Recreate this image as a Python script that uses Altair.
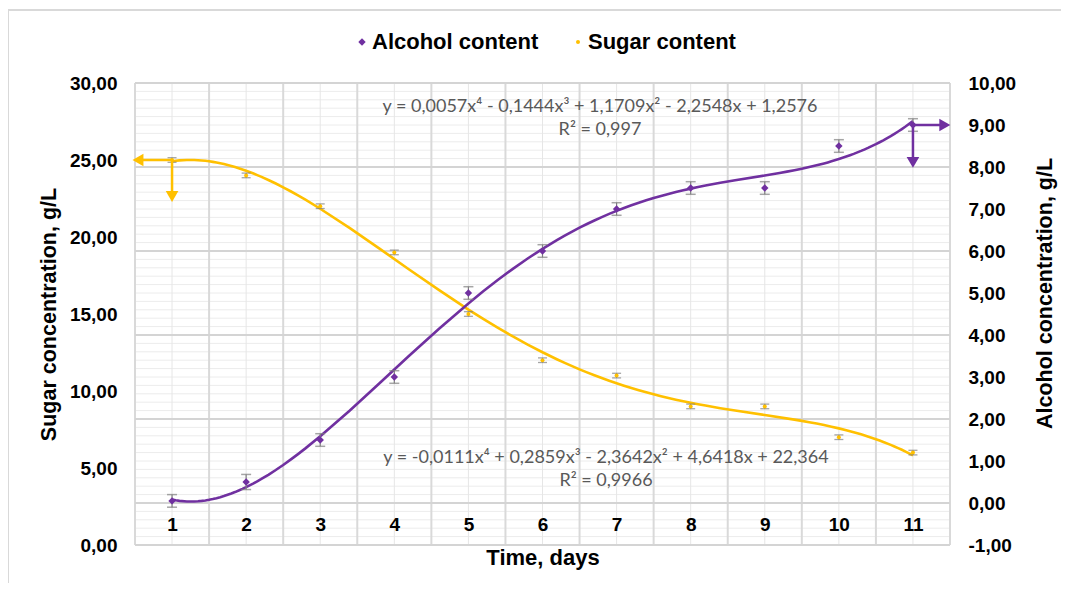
import altair as alt
import numpy as np
import pandas as pd

# ---------------- data ----------------
days = [1, 2, 3, 4, 5, 6, 7, 8, 9, 10, 11]
sugar = [25.0, 24.0, 22.0, 19.0, 15.0, 12.0, 11.0, 9.0, 9.0, 7.0, 6.0]
sugar_err = [0.15, 0.15, 0.15, 0.15, 0.15, 0.15, 0.15, 0.15, 0.15, 0.15, 0.15]
alcohol = [0.05, 0.5, 1.5, 3.0, 5.0, 6.0, 7.0, 7.5, 7.5, 8.5, 9.0]
alcohol_err = [0.15, 0.18, 0.15, 0.15, 0.15, 0.15, 0.15, 0.15, 0.15, 0.15, 0.15]

sugar_eq = "y = -0,0111x⁴ + 0,2859x³ - 2,3642x² + 4,6418x + 22,364"
sugar_r2 = "R² = 0,9966"
alc_eq = "y = 0,0057x⁴ - 0,1444x³ + 1,1709x² - 2,2548x + 1,2576"
alc_r2 = "R² = 0,997"

legend_labels = ["Alcohol content", "Sugar content"]
x_title = "Time, days"
sugar_title = "Sugar concentration, g/L"
alcohol_title = "Alcohol concentration, g/L"

sugar_ticks = [0, 5, 10, 15, 20, 25, 30]
alcohol_ticks = [-1, 0, 1, 2, 3, 4, 5, 6, 7, 8, 9, 10]

# arrows: start point (day, value), horizontal head x, vertical head value
sugar_arrow = [1, 25.0, 0.54, 22.63]
alcohol_arrow = [11, 9.0, 11.43, 8.11]

# ---------------- styles ----------------
PURPLE = "#7030A0"
GOLD = "#FFC000"
ERR = "#7F7F7F"
TXT = "#595959"
FONT = "Liberation Sans"
EQFONT = "Lato"

df = pd.DataFrame({
    "day": days,
    "sugar": sugar,
    "s_lo": [v - e for v, e in zip(sugar, sugar_err)],
    "s_hi": [v + e for v, e in zip(sugar, sugar_err)],
    "alcohol": alcohol,
    "a_lo": [v - e for v, e in zip(alcohol, alcohol_err)],
    "a_hi": [v + e for v, e in zip(alcohol, alcohol_err)],
})

num_expr = ("datum.value < 0 ? '-' + replace(format(-datum.value, '.2f'), '.', ',') "
            ": replace(format(datum.value, '.2f'), '.', ',')")

x_scale = alt.Scale(domain=[0.5, 11.5], nice=False, zero=False)
x_axis = alt.Axis(values=days, format="d", grid=False, ticks=False, domain=False,
                  offset=-43, labelPadding=13, labelFlush=False, labelOverlap=False,
                  title=x_title, titlePadding=13, zindex=1,
                  labelFont=FONT, labelFontSize=19, labelFontWeight="bold", labelColor="#000000",
                  titleFont=FONT, titleFontSize=22, titleFontWeight="bold", titleColor="#000000")


def X(f):
    return alt.X(f"{f}:Q", scale=x_scale, axis=x_axis)


s_scale = alt.Scale(domain=[0, 30], nice=False, zero=False)
s_axis = alt.Axis(orient="left", values=sugar_ticks, labelExpr=num_expr, grid=False, ticks=False,
                  domain=False, labelPadding=18, title=sugar_title, zindex=1,
                  titleX=-86, titleY=231, titleAngle=270, titleAlign="center", titleBaseline="middle",
                  labelFont=FONT, labelFontSize=19, labelFontWeight="bold", labelColor="#000000",
                  titleFont=FONT, titleFontSize=21.5, titleFontWeight="bold", titleColor="#000000")

a_scale = alt.Scale(domain=[-1, 10], nice=False, zero=False)
a_axis = alt.Axis(orient="right", values=alcohol_ticks, labelExpr=num_expr, grid=False, ticks=False,
                  domain=False, labelPadding=18, title=alcohol_title, zindex=1,
                  titleX=95, titleY=210, titleAngle=270, titleAlign="center", titleBaseline="middle",
                  labelFont=FONT, labelFontSize=19, labelFontWeight="bold", labelColor="#000000",
                  titleFont=FONT, titleFontSize=21.5, titleFontWeight="bold", titleColor="#000000")


def YS(f):
    return alt.Y(f"{f}:Q", scale=s_scale, axis=s_axis)


def YA(f):
    return alt.Y(f"{f}:Q", scale=a_scale, axis=a_axis)


g_scale = alt.Scale(domain=[-1, 10], nice=False, zero=False)

# ---------------- grid (Excel-like) ----------------
minor_h = pd.DataFrame({"v": np.round(np.arange(-1, 10.001, 0.2), 2)})
major_h = pd.DataFrame({"v": [-1, 0, 2, 4, 6, 8, 10]})
bound_v = pd.DataFrame({"v": [0.5 + i for i in range(12)]})
center_v = pd.DataFrame({"v": days})

grid_layer = alt.layer(
    alt.Chart(minor_h).mark_rule(color="#ececec", strokeWidth=1).encode(
        y=alt.Y("v:Q", scale=g_scale, axis=None)),
    alt.Chart(center_v).mark_rule(color="#e6e6e6", strokeWidth=1).encode(x=X("v")),
    alt.Chart(bound_v).mark_rule(color="#d9d9d9", strokeWidth=2).encode(x=X("v")),
    alt.Chart(major_h).mark_rule(color="#d4d4d4", strokeWidth=2).encode(
        y=alt.Y("v:Q", scale=g_scale, axis=None)),
)

# ---------------- sugar series ----------------
s_arrow_h = pd.DataFrame({"x0": [sugar_arrow[0]], "x1": [sugar_arrow[2]], "y": [sugar_arrow[1]]})
s_arrow_v = pd.DataFrame({"x0": [sugar_arrow[0]], "y": [sugar_arrow[1]], "y1": [sugar_arrow[3]]})

sugar_layer = alt.layer(
    alt.Chart(df).transform_regression("day", "sugar", method="poly", order=4)
    .mark_line(color=GOLD, strokeWidth=2.6).encode(x=X("day"), y=YS("sugar")),
    alt.Chart(df).mark_rule(color=ERR, strokeWidth=1.2).encode(x=X("day"), y=YS("s_lo"), y2="s_hi"),
    alt.Chart(df).mark_tick(orient="horizontal", color=ERR, size=9, thickness=1.3)
    .encode(x=X("day"), y=YS("s_lo")),
    alt.Chart(df).mark_tick(orient="horizontal", color=ERR, size=9, thickness=1.3)
    .encode(x=X("day"), y=YS("s_hi")),
    alt.Chart(df).mark_point(shape="circle", filled=True, size=16, color=GOLD, opacity=1)
    .encode(x=X("day"), y=YS("sugar")),
    alt.Chart(s_arrow_h).mark_rule(color=GOLD, strokeWidth=2.5).encode(x=X("x0"), x2="x1", y=YS("y")),
    alt.Chart(s_arrow_v).mark_rule(color=GOLD, strokeWidth=2.5).encode(x=X("x0"), y=YS("y"), y2="y1"),
    alt.Chart(s_arrow_h).mark_point(shape="triangle-left", filled=True, size=160, color=GOLD, opacity=1)
    .encode(x=X("x1"), y=YS("y")),
    alt.Chart(s_arrow_v).mark_point(shape="triangle-down", filled=True, size=160, color=GOLD, opacity=1)
    .encode(x=X("x0"), y=YS("y1")),
)

# ---------------- alcohol series ----------------
a_arrow_h = pd.DataFrame({"x0": [alcohol_arrow[0]], "x1": [alcohol_arrow[2]], "y": [alcohol_arrow[1]]})
a_arrow_v = pd.DataFrame({"x0": [alcohol_arrow[0]], "y": [alcohol_arrow[1]], "y1": [alcohol_arrow[3]]})

alcohol_layer = alt.layer(
    alt.Chart(df).transform_regression("day", "alcohol", method="poly", order=4)
    .mark_line(color=PURPLE, strokeWidth=2.6).encode(x=X("day"), y=YA("alcohol")),
    alt.Chart(df).mark_rule(color=ERR, strokeWidth=1.2).encode(x=X("day"), y=YA("a_lo"), y2="a_hi"),
    alt.Chart(df).mark_tick(orient="horizontal", color=ERR, size=10, thickness=1.5)
    .encode(x=X("day"), y=YA("a_lo")),
    alt.Chart(df).mark_tick(orient="horizontal", color=ERR, size=10, thickness=1.5)
    .encode(x=X("day"), y=YA("a_hi")),
    alt.Chart(df).mark_point(shape="diamond", filled=True, size=55, color=PURPLE, opacity=1)
    .encode(x=X("day"), y=YA("alcohol")),
    alt.Chart(a_arrow_h).mark_rule(color=PURPLE, strokeWidth=2.5).encode(x=X("x0"), x2="x1", y=YA("y")),
    alt.Chart(a_arrow_v).mark_rule(color=PURPLE, strokeWidth=2.5).encode(x=X("x0"), y=YA("y"), y2="y1"),
    alt.Chart(a_arrow_h).mark_point(shape="triangle-right", filled=True, size=160, color=PURPLE, opacity=1)
    .encode(x=X("x1"), y=YA("y")),
    alt.Chart(a_arrow_v).mark_point(shape="triangle-down", filled=True, size=160, color=PURPLE, opacity=1)
    .encode(x=X("x0"), y=YA("y1")),
)

# ---------------- annotations, legend, frame ----------------
one = pd.DataFrame({"k": [0]})


def txt(s, x, y, font=EQFONT, size=18, color=TXT, weight="normal", align="center"):
    return alt.Chart(one).mark_text(font=font, fontSize=size, color=color, fontWeight=weight,
                                    align=align, baseline="middle").encode(
        x=alt.value(x), y=alt.value(y), text=alt.value(s))


annot_layer = alt.layer(
    alt.Chart(one).mark_rule(stroke="#d9d9d9", strokeWidth=2).encode(
        x=alt.value(-127), y=alt.value(-73), y2=alt.value(700)),
    alt.Chart(one).mark_rule(stroke="#d9d9d9", strokeWidth=2).encode(
        x=alt.value(-127), x2=alt.value(1100), y=alt.value(-73)),
    txt(alc_eq, 465, 24),
    txt(alc_r2, 465, 47),
    txt(sugar_eq, 471, 375),
    txt(sugar_r2, 471, 398),
    alt.Chart(one).mark_point(shape="diamond", filled=True, size=55, color=PURPLE, opacity=1).encode(
        x=alt.value(227), y=alt.value(-41)),
    txt(legend_labels[0], 237, -41, font=FONT, size=22, color="#000000", weight="bold", align="left"),
    alt.Chart(one).mark_point(shape="circle", filled=True, size=16, color=GOLD, opacity=1).encode(
        x=alt.value(443), y=alt.value(-41)),
    txt(legend_labels[1], 453, -41, font=FONT, size=22, color="#000000", weight="bold", align="left"),
)

chart = (
    alt.layer(grid_layer, sugar_layer, alcohol_layer, annot_layer)
    .resolve_scale(y="independent")
    .properties(width=815, height=462,
                padding={"left": 127, "top": 75, "right": 111, "bottom": 38},
                autosize=alt.AutoSizeParams(type="none"),
                background="white")
    .configure_view(stroke=None)
)

chart.save("out.html", embed_options={"renderer": "svg", "actions": False})
